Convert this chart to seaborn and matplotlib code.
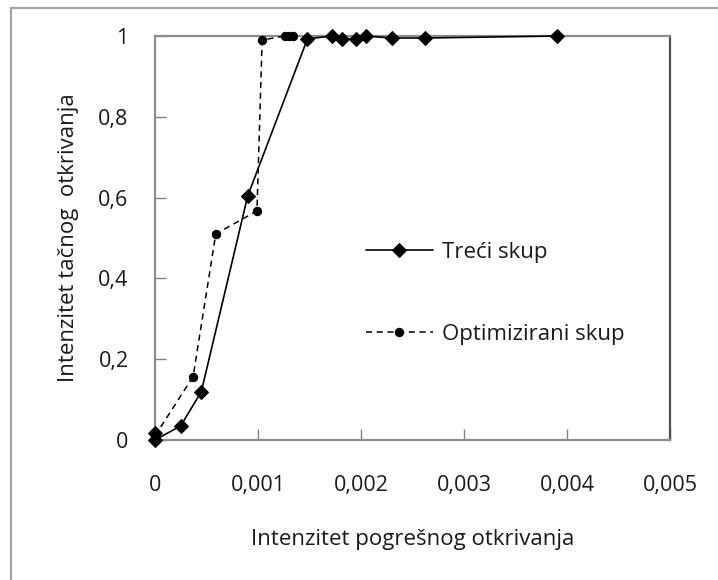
import matplotlib
matplotlib.use("Agg")
import matplotlib.pyplot as plt
import seaborn as sns
import pandas as pd
from matplotlib.patches import Rectangle

# data
treci_x = [0.0, 0.0, 0.00025, 0.00045, 0.00090, 0.00148, 0.00172, 0.00182, 0.00195, 0.00205, 0.00230, 0.00262, 0.00390]
treci_y = [0.017, 0.0, 0.035, 0.12, 0.604, 0.993, 1.0, 0.992, 0.993, 1.0, 0.995, 0.995, 1.0]
opt_x = [0.0, 0.00037, 0.00059, 0.00099, 0.00104, 0.00126, 0.00130, 0.00134]
opt_y = [0.01, 0.157, 0.51, 0.567, 0.99, 1.0, 1.0, 1.0]
x_ticks = [0, 0.001, 0.002, 0.003, 0.004, 0.005]
x_tick_labels = ["0", "0,001", "0,002", "0,003", "0,004", "0,005"]
y_ticks = [0, 0.2, 0.4, 0.6, 0.8, 1.0]
y_tick_labels = ["0", "0,2", "0,4", "0,6", "0,8", "1"]
series_names = ["Treći skup", "Optimizirani skup"]
x_label = "Intenzitet pogrešnog otkrivanja"
y_label = "Intenzitet tačnog  otkrivanja"

sns.set_theme(style="white")
plt.rcParams["font.family"] = ["Open Sans", "DejaVu Sans"]

df_t = pd.DataFrame({"x": treci_x, "y": treci_y})
df_o = pd.DataFrame({"x": opt_x, "y": opt_y})

fig = plt.figure(figsize=(7.18, 5.80), dpi=100)
W, H = 718, 580
ax = fig.add_axes([155 / W, 1 - 440 / H, (670 - 155) / W, (440 - 36) / H])

# outer frame (only left/top visible)
fig.patches.append(Rectangle((11 / W, -0.1), 1.2, (580 - 8) / H + 0.1, transform=fig.transFigure,
                             fill=False, edgecolor="#a6a6a6", linewidth=1.6, zorder=0))

sns.lineplot(data=df_t, x="x", y="y", sort=False, estimator=None, ax=ax,
             color="black", linewidth=1.2, marker="D", markersize=7,
             markeredgecolor="black", label=series_names[0], clip_on=False, zorder=4)
sns.lineplot(data=df_o, x="x", y="y", sort=False, estimator=None, ax=ax,
             color="black", linewidth=1.1, linestyle=(0, (4, 3)), marker="o", markersize=6,
             markeredgecolor="black", label=series_names[1], clip_on=False, zorder=3)

ax.set_xlim(0, 0.005)
ax.set_ylim(0, 1)
ax.set_xticks(x_ticks)
ax.set_xticklabels(x_tick_labels)
ax.set_yticks(y_ticks)
ax.set_yticklabels(y_tick_labels)
ax.tick_params(axis="both", direction="in", length=8, width=1, color="#808080",
               labelsize=15.5, labelcolor="#1a1a1a")
ax.tick_params(axis="x", pad=25)
ax.tick_params(axis="y", pad=19)
ax.tick_params(bottom=True, left=True)

for s in ax.spines.values():
    s.set_color("#8c8c8c")
    s.set_linewidth(1.6)
ax.spines["right"].set_color("#505050")

ax.set_xlabel(x_label, fontsize=16, color="#1a1a1a", labelpad=24)
ax.set_ylabel(y_label, fontsize=16, color="#1a1a1a", labelpad=14)

leg = ax.legend(loc="upper left", bbox_to_anchor=(0.41, 0.49), frameon=False,
                fontsize=16, handlelength=3.0, labelspacing=2.75, handletextpad=0.4,
                borderpad=0, borderaxespad=0)
for t in leg.get_texts():
    t.set_color("#1a1a1a")

fig.savefig("out.png", dpi=100, facecolor="white")
